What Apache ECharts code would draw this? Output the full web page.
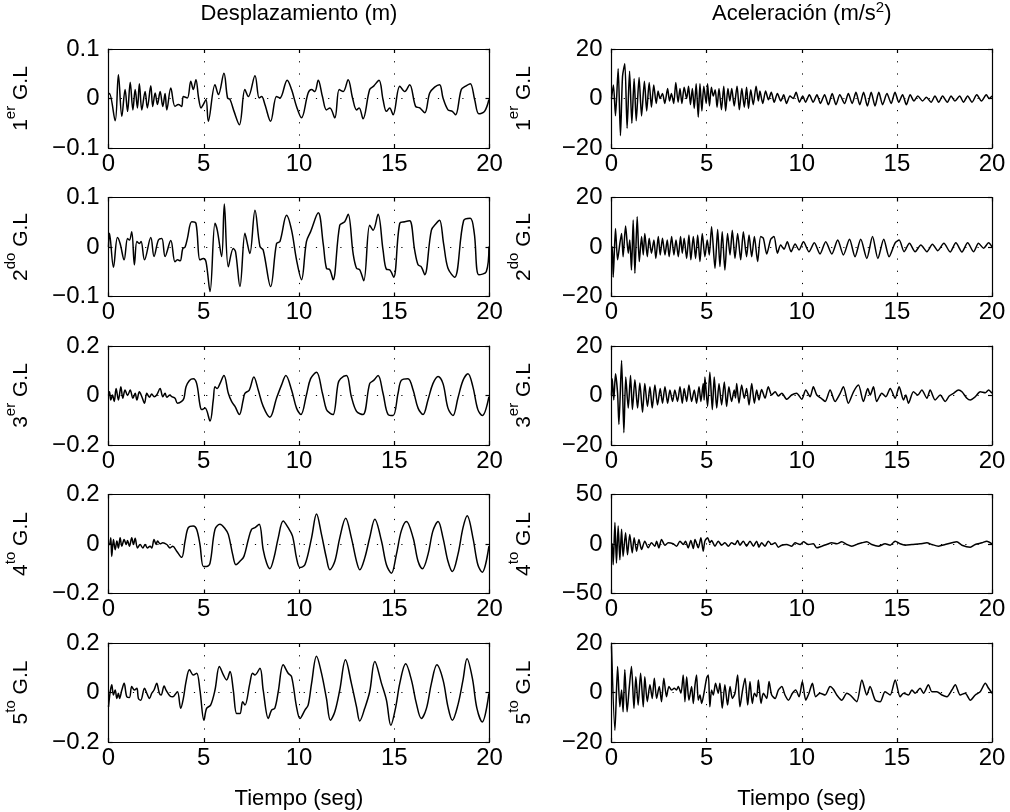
<!DOCTYPE html>
<html>
<head>
<meta charset="utf-8">
<script src="https://cdn.jsdelivr.net/npm/echarts@6/dist/echarts.min.js"></script>
<style>
html,body{margin:0;padding:0;background:#fff;}
#chart{width:1010px;height:812px;}
</style>
</head>
<body>
<div id="chart"></div>
<script>
// Time axis (s)
const timeTicks = [0, 5, 10, 15, 20];

// Displacement response per storey (m), [t, value]
const desp1 = [[0,0.008],[0.05,0.010],[0.35,-0.045],[0.52,0.048],[0.70,-0.036],[0.87,0.018],[1.00,-0.026],[1.14,0.033],[1.28,-0.023],[1.40,0.018],[1.52,-0.019],[1.62,0.030],[1.75,-0.023],[1.92,0.014],[2.04,-0.019],[2.22,0.026],[2.32,-0.016],[2.45,0.011],[2.57,-0.012],[2.71,0.014],[2.85,-0.016],[2.97,0.010],[3.06,-0.023],[3.27,0.021],[3.49,-0.016],[3.67,-0.012],[3.84,-0.016],[3.93,0.004],[4.14,0.001],[4.32,0.035],[4.45,0.018],[4.59,0.038],[4.73,0.001],[4.86,-0.019],[4.98,-0.012],[5.12,-0.002],[5.24,-0.046],[5.59,0.028],[5.77,0.008],[6.06,0.051],[6.25,0.001],[6.38,-0.002],[6.59,-0.026],[6.87,-0.053],[7.16,0.018],[7.34,0.004],[7.69,0.046],[7.91,0.001],[8.04,0.004],[8.21,-0.012],[8.51,-0.046],[8.82,0.004],[9.00,0.001],[9.38,0.037],[9.61,0.018],[9.87,-0.016],[10.13,-0.039],[10.48,0.011],[10.66,0.018],[10.83,0.014],[11.01,0.037],[11.23,0.004],[11.44,-0.023],[11.62,-0.019],[11.88,-0.039],[12.11,0.018],[12.32,0.014],[12.58,0.038],[12.81,0.001],[13.02,-0.023],[13.16,-0.019],[13.36,-0.041],[13.71,0.018],[13.92,0.025],[14.20,0.037],[14.41,-0.002],[14.59,-0.026],[14.76,-0.019],[14.94,-0.033],[15.29,0.025],[15.55,0.014],[15.81,0.028],[16.12,-0.016],[16.34,-0.019],[16.60,-0.029],[16.86,0.011],[17.12,0.023],[17.38,0.028],[17.56,0.001],[17.82,-0.023],[18.05,-0.026],[18.22,-0.033],[18.52,0.018],[18.75,0.025],[18.99,0.030],[19.22,-0.002],[19.44,-0.031],[19.74,-0.026],[19.97,-0.002]];
const desp2 = [[0,0.000],[0.05,0.028],[0.26,-0.041],[0.47,0.019],[0.61,0.007],[0.82,-0.026],[1.00,0.017],[1.10,0.014],[1.22,0.031],[1.36,-0.036],[1.49,0.011],[1.62,0.007],[1.71,0.011],[1.89,-0.026],[2.22,0.019],[2.39,-0.019],[2.62,0.014],[2.80,0.017],[2.97,-0.019],[3.27,0.013],[3.49,-0.030],[3.62,-0.026],[3.76,-0.028],[3.90,-0.003],[4.02,0.000],[4.14,0.017],[4.37,0.051],[4.59,0.048],[4.80,-0.026],[4.98,-0.023],[5.12,-0.030],[5.33,-0.090],[5.59,0.048],[5.71,0.034],[5.94,-0.019],[6.08,0.087],[6.29,-0.040],[6.55,-0.003],[6.67,-0.010],[6.90,-0.080],[7.16,0.028],[7.25,0.014],[7.42,-0.013],[7.69,0.074],[7.95,0.001],[8.12,-0.006],[8.51,-0.080],[8.82,0.007],[9.00,0.011],[9.35,0.064],[9.61,0.034],[9.87,-0.026],[10.13,-0.066],[10.39,0.011],[10.61,0.031],[11.01,0.069],[11.27,0.007],[11.44,-0.043],[11.62,-0.046],[11.79,-0.066],[12.14,0.044],[12.40,0.051],[12.58,0.066],[12.84,-0.013],[13.02,-0.043],[13.19,-0.046],[13.40,-0.068],[13.71,0.044],[13.89,0.034],[14.15,0.066],[14.41,-0.006],[14.59,-0.045],[14.76,-0.046],[14.97,-0.061],[15.29,0.048],[15.55,0.051],[15.81,0.053],[16.07,-0.006],[16.25,-0.036],[16.42,-0.040],[16.60,-0.056],[16.95,0.034],[17.21,0.048],[17.38,0.054],[17.59,0.007],[17.82,-0.043],[18.17,-0.061],[18.64,0.053],[18.99,0.058],[19.20,0.028],[19.44,-0.056],[19.83,-0.050],[19.97,0.001]];
const desp3 = [[0,0.000],[0.05,0.015],[0.12,-0.018],[0.21,0.002],[0.30,-0.024],[0.40,0.028],[0.52,-0.018],[0.65,0.035],[0.75,-0.011],[0.87,0.022],[1.00,0.000],[1.14,0.022],[1.28,-0.011],[1.40,0.009],[1.49,-0.018],[1.62,0.015],[1.75,-0.005],[1.89,-0.031],[2.01,0.009],[2.15,-0.007],[2.27,0.006],[2.40,-0.005],[2.53,0.002],[2.71,0.028],[2.85,-0.005],[2.97,0.009],[3.06,-0.007],[3.23,0.002],[3.32,-0.005],[3.49,-0.011],[3.62,-0.031],[3.84,-0.024],[3.96,-0.011],[4.07,0.035],[4.25,0.061],[4.45,0.068],[4.63,0.048],[4.80,-0.038],[4.89,-0.057],[5.07,-0.051],[5.33,-0.103],[5.50,-0.018],[5.59,0.035],[5.71,0.028],[5.85,0.048],[6.06,0.081],[6.29,0.009],[6.46,-0.024],[6.64,-0.044],[6.87,-0.077],[7.07,-0.018],[7.16,0.009],[7.39,0.022],[7.63,0.075],[7.86,0.022],[8.12,-0.044],[8.47,-0.088],[8.82,-0.011],[9.08,0.042],[9.31,0.081],[9.61,0.022],[9.87,-0.051],[10.10,-0.077],[10.39,0.002],[10.61,0.068],[10.92,0.094],[11.23,0.009],[11.44,-0.057],[11.62,-0.071],[11.79,-0.077],[12.05,0.048],[12.18,0.068],[12.49,0.081],[12.75,-0.005],[13.02,-0.064],[13.36,-0.077],[13.71,0.048],[13.92,0.061],[14.15,0.081],[14.41,0.009],[14.68,-0.077],[14.94,-0.081],[15.20,0.009],[15.37,0.061],[15.72,0.068],[15.99,0.022],[16.25,-0.051],[16.51,-0.077],[16.77,-0.018],[17.03,0.048],[17.30,0.077],[17.56,0.048],[17.82,-0.051],[18.08,-0.081],[18.34,-0.011],[18.61,0.061],[18.87,0.088],[19.13,0.035],[19.39,-0.057],[19.62,-0.081],[19.97,-0.005]];
const desp4 = [[0,0.000],[0.05,-0.002],[0.12,0.025],[0.17,-0.050],[0.26,0.018],[0.35,-0.023],[0.44,0.012],[0.52,-0.016],[0.61,0.025],[0.70,-0.009],[0.82,0.018],[0.93,-0.002],[1.00,0.014],[1.10,-0.009],[1.22,0.025],[1.31,-0.002],[1.40,0.023],[1.52,-0.016],[1.66,-0.002],[1.80,-0.016],[1.92,-0.002],[2.04,-0.016],[2.18,-0.009],[2.27,-0.016],[2.39,0.018],[2.50,-0.002],[2.57,0.012],[2.71,0.001],[2.85,0.005],[3.06,-0.002],[3.23,-0.016],[3.37,-0.009],[3.58,-0.029],[3.84,-0.054],[4.02,0.012],[4.19,0.066],[4.45,0.073],[4.63,0.059],[4.80,-0.002],[4.98,-0.091],[5.15,-0.091],[5.33,-0.077],[5.59,0.059],[5.85,0.080],[6.11,0.063],[6.29,0.039],[6.52,-0.043],[6.69,-0.084],[6.90,-0.070],[7.11,-0.050],[7.34,0.018],[7.51,0.059],[7.69,0.066],[7.91,0.080],[8.12,-0.023],[8.30,-0.077],[8.47,-0.100],[8.68,-0.057],[8.91,0.025],[9.17,0.093],[9.43,0.066],[9.66,0.032],[9.87,-0.057],[10.05,-0.095],[10.31,-0.084],[10.66,0.025],[10.92,0.121],[11.18,0.039],[11.44,-0.057],[11.62,-0.104],[11.88,-0.070],[12.14,0.025],[12.45,0.104],[12.75,0.025],[13.02,-0.070],[13.19,-0.104],[13.45,-0.057],[13.71,0.025],[13.98,0.100],[14.33,0.012],[14.59,-0.084],[14.85,-0.118],[15.11,-0.043],[15.37,0.053],[15.64,0.091],[15.99,0.025],[16.25,-0.070],[16.48,-0.100],[16.77,-0.043],[17.03,0.053],[17.30,0.091],[17.56,0.025],[17.82,-0.070],[18.05,-0.111],[18.34,-0.043],[18.61,0.066],[18.83,0.114],[19.13,0.025],[19.39,-0.084],[19.62,-0.114],[19.97,-0.009]];
const desp5 = [[0,-0.058],[0.09,0.003],[0.17,0.031],[0.26,-0.010],[0.35,0.010],[0.44,-0.024],[0.52,-0.003],[0.58,-0.024],[0.70,0.010],[0.82,0.037],[0.96,-0.017],[1.10,-0.020],[1.22,0.024],[1.36,0.010],[1.49,0.017],[1.57,-0.024],[1.69,-0.031],[1.89,0.017],[2.01,-0.003],[2.15,-0.024],[2.27,-0.003],[2.39,0.010],[2.53,0.037],[2.67,-0.003],[2.76,-0.010],[2.92,0.026],[3.02,0.010],[3.23,-0.014],[3.37,-0.017],[3.44,-0.014],[3.62,0.003],[3.79,-0.064],[3.93,-0.024],[4.07,0.044],[4.25,0.092],[4.45,0.071],[4.63,0.078],[4.80,0.010],[5.01,-0.112],[5.15,-0.064],[5.36,-0.051],[5.59,0.010],[5.82,0.105],[6.03,0.071],[6.20,0.051],[6.38,0.085],[6.55,0.010],[6.73,-0.085],[6.90,-0.085],[7.04,-0.037],[7.16,-0.051],[7.42,0.037],[7.56,0.078],[7.69,0.071],[7.95,0.098],[8.12,0.010],[8.39,-0.105],[8.56,-0.071],[8.73,-0.064],[8.91,0.003],[9.17,0.112],[9.43,0.078],[9.61,0.064],[9.87,-0.058],[10.05,-0.105],[10.31,-0.071],[10.48,-0.051],[10.66,0.037],[10.92,0.146],[11.18,0.078],[11.44,-0.024],[11.65,-0.112],[11.88,-0.078],[12.14,0.010],[12.44,0.132],[12.75,0.037],[13.02,-0.058],[13.19,-0.115],[13.45,-0.064],[13.71,0.003],[13.98,0.125],[14.33,0.037],[14.59,-0.031],[14.82,-0.132],[15.08,-0.058],[15.29,0.037],[15.60,0.116],[15.90,0.051],[16.16,-0.044],[16.42,-0.105],[16.69,-0.064],[16.95,0.037],[17.24,0.112],[17.56,0.051],[17.82,-0.058],[18.05,-0.112],[18.34,-0.051],[18.61,0.051],[18.82,0.136],[19.10,0.058],[19.34,-0.064],[19.62,-0.119],[19.97,-0.003]];

// Acceleration response per storey (m/s^2), [t, value]
const acel1 = [[0,0],[0.10,5.5],[0.21,-7],[0.35,12],[0.47,-15],[0.58,9],[0.70,14],[0.82,-12],[0.95,11],[1.07,-10],[1.19,8],[1.30,-9],[1.45,8.5],[1.58,-7],[1.73,7],[1.85,-5],[1.98,6.5],[2.10,-3.5],[2.22,5.5],[2.35,-2],[2.45,3],[2.55,0],[2.68,2],[2.80,-2],[2.95,4],[3.05,-1],[3.15,2],[3.27,-2],[3.38,6.5],[3.50,-1.5],[3.60,4],[3.70,-2],[3.82,4.5],[3.95,0],[4.05,5],[4.15,-2.5],[4.25,4],[4.35,-4],[4.45,6],[4.56,-7.5],[4.65,6],[4.75,-5],[4.85,5],[4.98,-2],[5.05,6],[5.15,-3],[5.25,4.5],[5.35,1],[5.45,3.5],[5.55,-3.5],[5.65,4],[5.78,-4.5],[5.90,5],[6.00,-5],[6.12,4],[6.22,-1],[6.32,4],[6.45,-3],[6.60,5],[6.72,-4.5],[6.85,4],[6.98,-3.5],[7.10,4.5],[7.20,-4],[7.32,3.5],[7.45,-2.5],[7.60,5],[7.72,-1],[7.80,3],[7.95,-2],[8.10,3],[8.25,-0.5],[8.40,2.5],[8.55,-1.5],[8.72,2],[8.90,-1],[9.05,1.5],[9.20,-2],[9.38,1],[9.55,0],[9.70,2.5],[9.88,-1.5],[10.05,1],[10.20,-1.5],[10.40,1.5],[10.60,-1.5],[10.80,1.5],[10.98,-2],[11.20,1.5],[11.40,-2.5],[11.60,2],[11.80,-2.5],[12.00,1.5],[12.25,-2],[12.45,2],[12.65,-2],[12.85,2.5],[13.05,-2.5],[13.25,2.5],[13.45,-3],[13.65,2.5],[13.85,-3],[14.05,2.5],[14.25,-2.5],[14.48,2],[14.70,-2],[14.90,2.5],[15.10,-1.5],[15.30,1.5],[15.50,-2.5],[15.70,1.5],[15.90,-1],[16.10,1],[16.35,-1],[16.55,0.5],[16.80,-1.5],[17.00,1],[17.20,-1.5],[17.40,1],[17.65,-1.5],[17.85,1],[18.05,-1],[18.30,1],[18.50,-1.5],[18.72,1],[18.95,-1.5],[19.20,1.5],[19.45,-1],[19.70,1.5],[19.85,0],[20.00,1]];
const acel2 = [[0,0],[0.04,0.1],[0.09,-12.2],[0.21,7.5],[0.32,-5.2],[0.44,1.5],[0.53,5.5],[0.61,-3.9],[0.74,8.5],[0.88,-2.5],[0.96,2.8],[1.05,-9.3],[1.14,10.9],[1.23,-10.6],[1.35,12.2],[1.46,-5.9],[1.58,4.2],[1.67,-3.2],[1.75,5.5],[1.88,-3.9],[1.98,3.5],[2.10,-2.5],[2.23,2.8],[2.33,-4.6],[2.46,4.2],[2.56,-3.2],[2.68,3.5],[2.81,-3.2],[2.93,2.8],[3.03,-3.9],[3.16,4.2],[3.28,-3.2],[3.39,2.8],[3.51,-3.9],[3.63,4.2],[3.72,-2.5],[3.82,3.5],[3.95,-4.6],[4.07,4.8],[4.17,-5.2],[4.30,4.2],[4.42,-4.6],[4.53,4.8],[4.65,-5.9],[4.77,5.5],[4.91,-3.9],[5.03,2.8],[5.14,-3.2],[5.26,8.2],[5.44,-8.6],[5.58,7.1],[5.70,-7.9],[5.82,6.2],[5.96,-9.3],[6.10,5.5],[6.23,-3.2],[6.35,6.8],[6.49,-4.6],[6.63,5.5],[6.79,-5.2],[6.93,6.2],[7.10,-3.9],[7.23,4.8],[7.37,-3.9],[7.51,4.2],[7.68,-5.9],[7.84,4.2],[7.98,3.5],[8.16,-2.8],[8.37,3.1],[8.54,4.2],[8.72,-2.5],[8.89,0.8],[9.07,-0.9],[9.24,2.1],[9.44,-1.9],[9.65,1.2],[9.86,-1.2],[10.09,2.1],[10.38,-1.9],[10.66,1.7],[10.96,-2.8],[11.26,2.1],[11.58,-2.8],[11.89,2.8],[12.19,-3.2],[12.51,3.1],[12.80,-3.9],[13.10,3.1],[13.42,-4.6],[13.72,4.2],[14.00,-4.6],[14.31,3.1],[14.59,-3.9],[14.91,1.7],[15.12,2.8],[15.38,-1.9],[15.66,1.5],[15.96,-1.9],[16.26,0.8],[16.58,-1.9],[16.87,1.1],[17.15,-1.5],[17.47,1.5],[17.80,-2.0],[18.10,1.7],[18.42,-2.0],[18.72,1.7],[19.03,-1.9],[19.29,1.5],[19.56,-0.5],[19.82,1.7],[20.00,0.1]];
const acel3 = [[0,0],[0.04,6.8],[0.12,-1.8],[0.21,8.8],[0.32,0.9],[0.39,-11.7],[0.53,14.1],[0.65,-15.0],[0.75,7.5],[0.88,-5.1],[1.00,8.1],[1.10,-5.7],[1.23,6.4],[1.37,-5.1],[1.49,5.1],[1.63,-6.8],[1.75,4.8],[1.89,-4.4],[2.02,3.5],[2.14,-5.1],[2.28,4.2],[2.42,-3.8],[2.56,2.8],[2.68,-3.1],[2.81,3.5],[2.95,-3.1],[3.07,2.2],[3.21,-2.4],[3.33,2.2],[3.47,-2.4],[3.60,3.5],[3.72,-3.1],[3.82,2.8],[3.95,-2.4],[4.07,4.2],[4.21,-2.4],[4.35,2.2],[4.47,-3.1],[4.60,3.5],[4.70,-2.4],[4.82,4.8],[4.87,-1.8],[4.91,7.5],[5.05,-4.4],[5.17,9.4],[5.30,-5.7],[5.40,7.5],[5.53,-5.1],[5.65,4.8],[5.79,-3.8],[5.93,5.5],[6.05,-4.4],[6.17,3.5],[6.31,-2.4],[6.45,2.2],[6.52,-1.0],[6.58,4.8],[6.70,-3.1],[6.84,4.2],[6.98,-1.1],[7.10,2.8],[7.23,-3.8],[7.37,4.8],[7.51,-3.1],[7.63,2.2],[7.75,-1.8],[7.89,2.4],[8.07,-1.1],[8.24,3.5],[8.42,0.2],[8.60,1.5],[8.77,-0.2],[8.95,0.9],[9.21,-1.5],[9.47,0.2],[9.73,0.9],[10.00,-1.5],[10.21,2.2],[10.44,-0.5],[10.61,3.5],[10.79,0.2],[11.02,-1.1],[11.23,-2.4],[11.49,2.2],[11.75,-2.4],[12.02,0.9],[12.19,3.5],[12.45,-3.1],[12.72,1.5],[12.98,4.2],[13.24,-2.4],[13.47,2.8],[13.60,0.2],[13.77,3.5],[13.94,-2.4],[14.21,0.9],[14.42,-0.5],[14.65,2.8],[14.91,-1.1],[15.12,3.5],[15.35,-1.8],[15.47,0.2],[15.61,-3.1],[15.87,1.5],[16.10,0.2],[16.31,2.2],[16.58,-1.1],[16.75,2.2],[17.01,-1.8],[17.28,0.2],[17.54,-2.4],[17.75,-0.2],[17.98,0.9],[18.24,2.2],[18.42,1.5],[18.68,-1.1],[18.86,-1.8],[19.12,-0.5],[19.38,1.5],[19.65,1.1],[19.82,2.2],[20.00,0.9]];
const acel4 = [[0,0],[0.04,0.2],[0.09,-21],[0.18,21.7],[0.26,-19.3],[0.35,18.3],[0.44,-15.9],[0.53,14.8],[0.61,-12.5],[0.74,11.4],[0.84,-10.8],[0.96,9.7],[1.09,-9.0],[1.19,6.3],[1.32,-7.3],[1.44,4.6],[1.58,-5.6],[1.75,2.9],[1.93,-3.9],[2.10,1.2],[2.28,-2.2],[2.37,2.9],[2.49,-3.9],[2.63,4.6],[2.81,-1.2],[2.98,1.2],[3.24,0.2],[3.42,-2.2],[3.60,2.9],[3.77,-0.5],[3.89,2.9],[4.03,-3.9],[4.17,3.6],[4.30,-4.6],[4.39,4.6],[4.56,-3.9],[4.70,6.3],[4.82,-7.3],[4.91,2.9],[5.05,6.3],[5.17,1.2],[5.26,3.6],[5.44,-2.2],[5.61,2.9],[5.79,-1.2],[5.96,1.2],[6.14,-2.2],[6.31,1.2],[6.49,-0.5],[6.63,3.6],[6.75,-1.2],[6.93,2.9],[7.10,-2.2],[7.28,2.9],[7.46,-2.2],[7.63,2.9],[7.75,-3.2],[7.89,1.2],[8.07,-2.2],[8.24,2.9],[8.42,-0.5],[8.60,1.2],[8.77,-3.2],[8.95,-1.2],[9.21,-0.5],[9.47,-2.2],[9.65,1.2],[9.91,-0.5],[10.09,2.2],[10.35,-0.5],[10.61,0.2],[10.79,-3.9],[11.05,-2.2],[11.31,-0.5],[11.58,1.2],[11.84,0.2],[12.10,2.2],[12.37,-0.5],[12.63,-2.2],[12.98,0.2],[13.16,1.2],[13.42,2.2],[13.68,-0.5],[14.03,-2.2],[14.38,0.2],[14.65,-1.2],[14.91,2.9],[15.17,0.2],[15.44,-1.2],[15.79,-0.5],[16.22,0.2],[16.58,1.2],[16.84,-0.5],[17.19,-2.2],[17.54,-0.5],[17.89,1.2],[18.15,2.2],[18.42,-1.2],[18.86,-3.2],[19.12,-0.5],[19.47,1.2],[19.73,2.9],[20.00,0.2]];
const acel5 = [[0,18.6],[0.18,-15.3],[0.32,10.5],[0.44,-5.8],[0.53,1.0],[0.61,-7.8],[0.70,9.2],[0.82,-7.8],[0.93,1.7],[1.05,10.5],[1.18,-6.4],[1.28,6.4],[1.40,-5.1],[1.53,7.8],[1.67,-5.8],[1.75,6.4],[1.88,-3.7],[2.02,3.1],[2.14,-2.4],[2.25,5.8],[2.37,-2.4],[2.51,2.4],[2.63,-3.7],[2.75,5.8],[2.89,-1.7],[3.02,2.4],[3.16,1.0],[3.30,1.7],[3.42,1.0],[3.51,2.4],[3.65,-0.3],[3.77,7.1],[3.86,-3.7],[3.95,6.4],[4.07,-3.1],[4.21,2.4],[4.30,-4.4],[4.39,3.1],[4.47,7.1],[4.56,-3.1],[4.65,-1.0],[4.74,-4.4],[4.86,-0.3],[5.00,5.8],[5.09,7.1],[5.17,-5.8],[5.26,1.0],[5.35,-1.0],[5.47,3.7],[5.61,-0.3],[5.70,3.7],[5.82,-6.4],[5.96,3.1],[6.10,-5.1],[6.23,2.4],[6.35,-2.4],[6.49,-0.3],[6.63,7.1],[6.75,-5.8],[6.89,1.0],[7.02,5.8],[7.16,-5.1],[7.28,4.4],[7.40,-4.4],[7.51,-0.3],[7.63,-1.7],[7.72,5.1],[7.86,-4.4],[7.98,-0.3],[8.16,-2.4],[8.28,4.4],[8.42,-1.0],[8.60,-2.4],[8.77,1.0],[8.95,2.4],[9.12,-1.0],[9.30,-3.1],[9.51,-0.3],[9.68,1.0],[9.86,-1.7],[10.03,4.4],[10.21,-3.1],[10.38,-0.3],[10.56,3.7],[10.73,-1.7],[10.96,-0.3],[11.23,-1.0],[11.49,2.4],[11.66,1.3],[11.84,-1.0],[12.10,-3.1],[12.37,-0.3],[12.54,-1.0],[12.89,-3.7],[13.16,5.1],[13.42,-1.0],[13.59,2.4],[13.86,-3.1],[14.12,-3.7],[14.38,0.3],[14.65,-1.0],[14.91,5.1],[15.17,-1.7],[15.35,-0.3],[15.61,-1.0],[15.79,1.0],[15.96,-0.3],[16.22,1.7],[16.40,-0.3],[16.66,3.1],[16.84,0.3],[17.10,0.3],[17.37,-1.0],[17.63,-1.7],[17.89,1.0],[18.07,3.1],[18.33,-1.0],[18.59,-0.3],[18.86,-3.1],[19.12,-1.0],[19.38,0.3],[19.65,3.7],[19.82,1.7],[20.00,-0.3]];

// Symmetric y-axis limits per row
const despLimits = [0.1, 0.1, 0.2, 0.2, 0.2];
const acelLimits = [20, 20, 20, 50, 20];

// Storey labels: number and ordinal suffix
const storeyNums = ['1', '2', '3', '4', '5'];
const storeySuffix = ['er', 'do', 'er', 'to', 'to'];

const colTitles = ['Desplazamiento (m)', 'Aceleración (m/s{sup|2})'];
const timeLabel = 'Tiempo (seg)';

const FONT = "'Liberation Sans', Arial, Helvetica, sans-serif";
const rowTops = [49, 197.5, 346, 494.5, 643];
const plotH = 99;
const cols = [{ left: 108.5, width: 381 }, { left: 611.5, width: 380.5 }];

const dotted = { color: '#000', width: 1, type: [1.2, 11] };
const black = { color: '#000', width: 1.2 };

function tickFmt(v) {
  const a = Math.round(Math.abs(v) * 1000) / 1000;
  return (v < 0 && a !== 0 ? '\u2212' : '') + a;
}

const grids = [], xAxes = [], yAxes = [], xTop = [], yRight = [], series = [];
const allData = [[desp1, desp2, desp3, desp4, desp5], [acel1, acel2, acel3, acel4, acel5]];
const limits = [despLimits, acelLimits];

for (let c = 0; c < 2; c++) {
  for (let r = 0; r < 5; r++) {
    const i = c * 5 + r;
    grids.push({ left: cols[c].left, width: cols[c].width, top: rowTops[r], height: plotH,
                 show: false, containLabel: false });
    xAxes.push({
      gridIndex: i, type: 'value', min: timeTicks[0], max: timeTicks[timeTicks.length - 1],
      interval: timeTicks[1] - timeTicks[0], position: 'bottom',
      axisLine: { show: true, onZero: false, lineStyle: black },
      axisTick: { show: true, inside: true, length: 4, lineStyle: black },
      axisLabel: { color: '#000', fontSize: 24, fontFamily: FONT, margin: 4 },
      splitLine: { show: true, lineStyle: dotted },
      name: r === 4 ? timeLabel : '', nameLocation: 'middle', nameGap: 46,
      nameTextStyle: { color: '#000', fontSize: 22, fontFamily: FONT }
    });
    xTop.push({
      gridIndex: i, type: 'value', min: timeTicks[0], max: timeTicks[timeTicks.length - 1],
      interval: timeTicks[1] - timeTicks[0], position: 'top',
      axisLine: { show: true, onZero: false, lineStyle: black },
      axisTick: { show: true, inside: true, length: 4, lineStyle: black },
      axisLabel: { show: false }, splitLine: { show: false }
    });
    const L = limits[c][r];
    yAxes.push({
      gridIndex: i, type: 'value', min: -L, max: L, interval: L, position: 'left',
      axisLine: { show: true, onZero: false, lineStyle: black },
      axisTick: { show: true, inside: true, length: 4, lineStyle: black },
      axisLabel: { color: '#000', fontSize: 24, fontFamily: FONT, margin: 9, formatter: tickFmt },
      splitLine: { show: true, lineStyle: dotted },
      name: '{b|' + storeyNums[r] + '}{s|' + storeySuffix[r] + '}{b| G.L}',
      nameLocation: 'middle', nameRotate: 90, nameGap: 77,
      nameTextStyle: {
        color: '#000', fontFamily: FONT,
        rich: {
          b: { fontSize: 21, fontFamily: FONT, color: '#000', verticalAlign: 'bottom', lineHeight: 28 },
          s: { fontSize: 15, fontFamily: FONT, color: '#000', verticalAlign: 'top', lineHeight: 28 }
        }
      }
    });
    yRight.push({
      gridIndex: i, type: 'value', min: -L, max: L, interval: L, position: 'right',
      axisLine: { show: true, onZero: false, lineStyle: black },
      axisTick: { show: true, inside: true, length: 4, lineStyle: black },
      axisLabel: { show: false }, splitLine: { show: false }
    });
    series.push({
      type: 'line', xAxisIndex: i, yAxisIndex: i, data: allData[c][r],
      showSymbol: false, smooth: c === 0 ? 0.35 : 0.25, clip: true,
      lineStyle: { color: '#000', width: 1.5 }, silent: true
    });
  }
}

const chart = echarts.init(document.getElementById('chart'), null, { renderer: 'canvas' });
chart.setOption({
  backgroundColor: '#fff',
  animation: false,
  title: colTitles.map((t, c) => ({
    text: t, left: cols[c].left + cols[c].width / 2, top: 0, padding: 0, textAlign: 'center',
    textStyle: {
      color: '#000', fontSize: 22, fontWeight: 'normal', fontFamily: FONT, lineHeight: 28,
      rich: { sup: { fontSize: 15, color: '#000', fontFamily: FONT, verticalAlign: 'top', lineHeight: 28 } }
    }
  })),
  grid: grids,
  xAxis: xAxes.concat(xTop),
  yAxis: yAxes.concat(yRight),
  series: series
});
</script>
</body>
</html>
